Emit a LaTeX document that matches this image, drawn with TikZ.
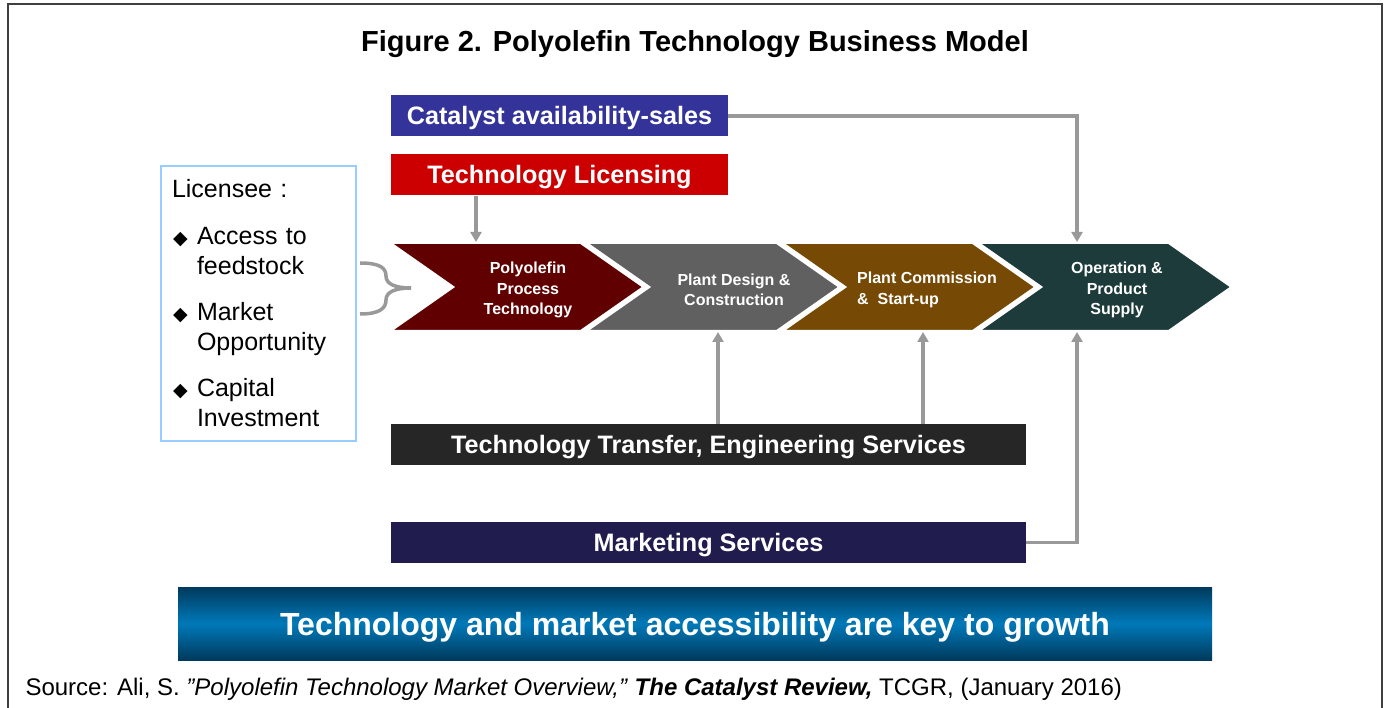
\documentclass[tikz,border=0pt]{standalone}
\usepackage{fontspec}
\setmainfont{Liberation Sans}
\newfontfamily\dejavu{DejaVu Sans}
\usetikzlibrary{shapes.symbols, arrows.meta, positioning, calc}
\definecolor{catblue}{HTML}{333399}
\definecolor{licred}{HTML}{CC0000}
\definecolor{ptred}{HTML}{600000}
\definecolor{ptgray}{HTML}{606060}
\definecolor{ptbrown}{HTML}{764A05}
\definecolor{ptgreen}{HTML}{1C3B3A}
\definecolor{ttgray}{HTML}{262626}
\definecolor{msnavy}{HTML}{201C4E}
\definecolor{lnkgray}{HTML}{999999}
\definecolor{lseeblue}{HTML}{99CCFF}
\definecolor{keydark}{HTML}{003A5C}
\definecolor{keymid}{HTML}{0079B9}
\definecolor{framegray}{HTML}{404040}
\newcommand{\fsz}[2]{\fontsize{#1}{#2}\selectfont}
\newcommand{\lseebullet}{\makebox[25pt][l]{\hspace*{1pt}{\dejavu\fsz{19}{19}◆}}}
\tikzstyle{bar} = [text=white, font=\fsz{25.2}{28}\bfseries, minimum height=41,
        inner sep=0pt, text height=18, text depth=0pt]
\tikzstyle{chev} = [signal, signal from=west, signal to=east, signal pointer angle=70,
        draw=white, line width=2, minimum width=253, minimum height=88, inner sep=0pt]
\tikzstyle{chevtxt} = [text=white, align=center, font=\fsz{16}{20.5}\bfseries]
\tikzstyle{link} = [draw=lnkgray, line width=3.5, -{Triangle[width=11pt,length=10pt]}]

\begin{document}
\begin{tikzpicture}[x=1pt, y=-1pt]
    \useasboundingbox (0,0) rectangle (1384,708);
    \draw[framegray, line width=2.5] (8,712) -- (8,4) -- (1382,4) -- (1382,712);

    \node[font=\fsz{29}{34}\bfseries] (Title) at (695,44) {Figure 2. Polyolefin Technology Business Model};

    \node[bar, fill=catblue, minimum width=337] (Cat) at (559.5,116) {Catalyst availability-sales};
    \node[bar, fill=licred, minimum width=337] (Lic) at (559.5,175) {Technology Licensing};

    \node[chev, fill=ptred] (P1) at (517,287) {};
    \node[chev, fill=ptgray] (P2) at (713,287) {};
    \node[chev, fill=ptbrown] (P3) at (909,287) {};
    \node[chev, fill=ptgreen] (P4) at (1105,287) {};
    \node[chevtxt] (P1t) at ($(P1)+(11,3)$) {Polyolefin\\Process\\Technology};
    \node[chevtxt] (P2t) at ($(P2)+(21,3)$) {Plant Design \&\\Construction};
    \node[chevtxt, align=left] (P3t) at ($(P3)+(18,3)$) {Plant Commission\\\&\ \ Start-up};
    \node[chevtxt] (P4t) at ($(P4)+(12,3)$) {Operation \&\\Product\\Supply};

    \node[bar, fill=ttgray, minimum width=635] (Tt) at (708.5,444.5) {Technology Transfer, Engineering Services};
    \node[bar, fill=msnavy, minimum width=635] (Ms) at (708.5,542.5) {Marketing Services};

    \node[draw=lseeblue, line width=2, minimum height=275, text width=173, inner xsep=11,
        inner ysep=0pt, align=left, font=\fsz{25}{30}] (Lsee) at (258.5,303.5)
        {Licensee :\\[17pt]
         \lseebullet Access to\\ \hspace*{25pt}feedstock\\[16pt]
         \lseebullet Market\\ \hspace*{25pt}Opportunity\\[16pt]
         \lseebullet Capital\\ \hspace*{25pt}Investment};
    % brace into the first step
    \draw[lnkgray, line width=3.5] (360,263) .. controls (380,263) and (386,268) .. (386,276)
        .. controls (386,284) and (395,288) .. (411,288)
        .. controls (395,288) and (386,292) .. (386,300)
        .. controls (386,308) and (380,314) .. (360,314);

    \node[minimum width=1034, minimum height=73, top color=keydark, bottom color=keydark,
        middle color=keymid, text=white, font=\fsz{32}{36}\bfseries,
        text height=23, text depth=0pt] (Key) at (695,623.5)
        {Technology and market accessibility are key to growth};

    \node[anchor=base west, font=\fsz{24}{26}] (Src) at (22,695)
        {Source: Ali, S. \textit{”Polyolefin Technology Market Overview,”} \textbf{\textit{The Catalyst Review,}} TCGR, (January 2016)};

    \draw[link] (Cat.east) -| ([xshift=-28]P4.north);
    \draw[link] (Ms.east) -| ([xshift=-28]P4.south);
    \draw[link] ([xshift=-83.5]Lic.south) -- ([xshift=-83.5]Lic.south |- P1.north);
    \draw[link] ([xshift=9.5]Tt.north) -- ([xshift=9.5]Tt.north |- P2.south);
    \draw[link] ([xshift=214.5]Tt.north) -- ([xshift=214.5]Tt.north |- P3.south);
\end{tikzpicture}
\end{document}
